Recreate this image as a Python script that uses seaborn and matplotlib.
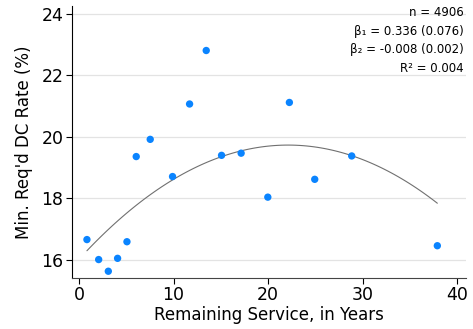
import numpy as np
import pandas as pd
import matplotlib
matplotlib.use("Agg")
import matplotlib.pyplot as plt
import seaborn as sb

# binned means (remaining service, in years -> min. required DC rate, %)
years = [0.84, 2.08, 3.10, 4.08, 5.07, 6.05, 7.53, 9.89, 11.69, 13.45,
         15.07, 17.14, 19.96, 22.24, 24.92, 28.83, 37.88]
dc_rate = [16.66, 16.01, 15.63, 16.05, 16.59, 19.36, 19.92, 18.71, 21.07, 22.81,
           19.40, 19.47, 18.04, 21.12, 18.62, 19.38, 16.46]

# quadratic fit shown on the chart
b0, b1, b2 = 16.02, 0.336, -0.0076
fit_range = (0.84, 37.88)

stats_lines = ["n = 4906", "β₁ = 0.336 (0.076)", "β₂ = -0.008 (0.002)", "R² = 0.004"]

sb.set_style("white")
plt.rcParams['font.family'] = ['DejaVu Sans']
plt.rcParams['text.color'] = 'black'
plt.rcParams['axes.labelcolor'] = 'black'

fig = plt.figure(figsize=(4.73, 3.29), dpi=100)
ax = fig.add_axes([0.152, 0.155, 0.833, 0.827])

df = pd.DataFrame({"years": years, "rate": dc_rate})
sb.scatterplot(data=df, x="years", y="rate", color="#0a84ff", s=28,
               edgecolor="none", ax=ax, zorder=3)

xs = np.linspace(*fit_range, 100)
fit = pd.DataFrame({"years": xs, "rate": b0 + b1 * xs + b2 * xs ** 2})
sb.lineplot(data=fit, x="years", y="rate", color="#707070", lw=0.8, ax=ax, zorder=2)

ax.set_xlim(-0.75, 40.9)
ax.set_ylim(15.41, 24.26)
ax.set_xticks([0, 10, 20, 30, 40])
ax.set_yticks([16, 18, 20, 22, 24])
ax.yaxis.grid(True, color="#e3e3e3", lw=0.9)
ax.set_axisbelow(True)
for s in ["top", "right"]:
    ax.spines[s].set_visible(False)
ax.spines["left"].set_color("black")
ax.spines["bottom"].set_color("#444444")
ax.tick_params(axis="both", direction="out", length=4, width=0.8,
               labelsize=12.5, colors="black", left=True, bottom=True, pad=2)
ax.set_xlabel("Remaining Service, in Years", fontsize=12, labelpad=1)
ax.set_ylabel("Min. Req'd DC Rate (%)", fontsize=12, labelpad=6)

ax.text(0.995, 0.998, "\n".join(stats_lines), transform=ax.transAxes,
        ha="right", va="top", fontsize=8.5, linespacing=1.55)

fig.savefig("out.png", dpi=100)
